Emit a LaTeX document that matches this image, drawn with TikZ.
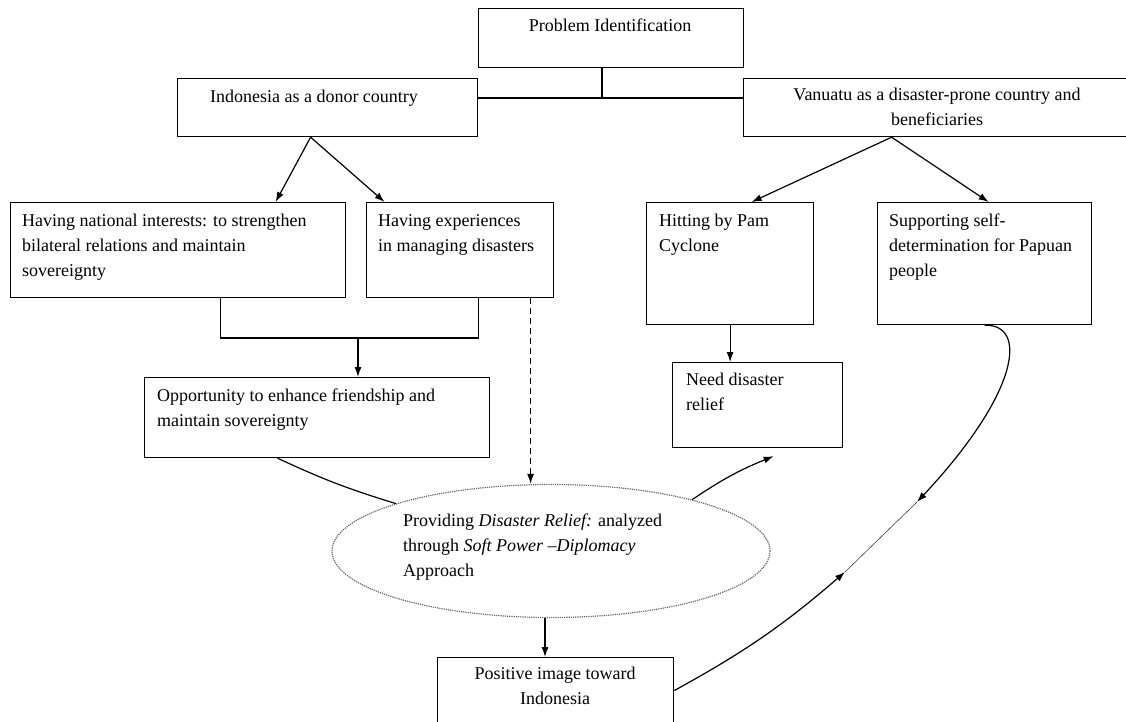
\documentclass[tikz,border=0pt]{standalone}
\usepackage{fontspec}
\setmainfont{Liberation Serif}
\usetikzlibrary{arrows.meta,shapes.geometric}

\tikzset{
  box/.style={draw, line width=1.2pt, inner sep=0pt, anchor=north west},
  txt/.style={inner sep=0pt, align=left, anchor=north west},
  ctxt/.style={inner sep=0pt, align=center, anchor=north},
  link/.style={line width=1.2pt},
  >={Latex[length=10pt,width=7pt]}
}

\begin{document}
\begin{tikzpicture}[x=1pt, y=1pt, font=\fontsize{18}{25}\selectfont]
  \useasboundingbox (0,0) rectangle (1126,-722);
  % boxes
  \node[box, minimum width=265pt, minimum height=59pt] (pi) at (478,-8) {};
  \node[box, minimum width=300pt, minimum height=58pt] (indo) at (177,-78) {};
  \node[box, minimum width=392pt, minimum height=58pt] (van) at (743,-78) {};
  \node[box, minimum width=335pt, minimum height=95pt] (nat) at (10,-202) {};
  \node[box, minimum width=187pt, minimum height=95pt] (exp) at (366,-202) {};
  \node[box, minimum width=167pt, minimum height=122pt] (hit) at (646,-202) {};
  \node[box, minimum width=214pt, minimum height=122pt] (sup) at (877,-202) {};
  \node[box, minimum width=345pt, minimum height=80pt] (opp) at (144,-377) {};
  \node[box, minimum width=170pt, minimum height=85pt] (need) at (672,-362) {};
  \node[ellipse, draw=gray!80!black, densely dotted, line width=1.2pt, inner sep=0pt,
        minimum width=438pt, minimum height=133pt] (prov) at (551,-551) {};
  \node[box, minimum width=236pt, minimum height=66pt] (pos) at (437,-657) {};

  % texts
  \node[ctxt] (piT) at (610,-19) {Problem Identification};
  \node[ctxt] (indoT) at (314,-90) {Indonesia as a donor country};
  \node[ctxt] (vanT) at (937,-88) {Vanuatu as a disaster-prone country and\\beneficiaries};
  \node[txt] (natT) at (22,-214) {Having national interests: to strengthen\\bilateral relations and maintain\\sovereignty};
  \node[txt] (expT) at (378,-214) {Having experiences\\in managing disasters};
  \node[txt] (hitT) at (659,-214) {Hitting by Pam\\Cyclone};
  \node[txt] (supT) at (889,-214) {Supporting self-\\determination for Papuan\\people};
  \node[txt] (oppT) at (157,-389) {Opportunity to enhance friendship and\\maintain sovereignty};
  \node[txt] (needT) at (686,-373) {Need disaster\\relief};
  \node[txt] (provT) at (403,-514) {Providing \textit{Disaster Relief:} analyzed\\through \textit{Soft Power –Diplomacy}\\Approach};
  \node[ctxt] (posT) at (555,-667) {Positive image toward\\Indonesia};

  % connectors
  \coordinate (split) at (602,-98);
  \draw[link] (split |- pi.south) -- (split);
  \draw[link] (indo.east |- split) -- (van.west |- split);
  \draw[link,->] ([xshift=-17pt]indo.south) -- ([xshift=97.5pt]nat.north);
  \draw[link,->] ([xshift=-17pt]indo.south) -- ([xshift=-75.5pt]exp.north);
  \draw[link,->] ([xshift=-48pt]van.south) -- ([xshift=21.5pt]hit.north);
  \draw[link,->] ([xshift=-48pt]van.south) -- ([xshift=4pt]sup.north);

  \coordinate (merge) at (358,-338);
  \draw[link] ([xshift=42.5pt]nat.south) |- (merge) -| ([xshift=18.5pt]exp.south);
  \draw[link,->] (merge) -- (merge |- opp.north);
  \draw[link,->,dash pattern=on 6pt off 4pt] ([xshift=70.5pt]exp.south) -- ([xshift=70.5pt]exp.south |- prov.north);
  \draw[link,->] (hit.south) -- (hit.south |- need.north);

  \draw[link] ([xshift=-39.5pt]opp.south) to[bend right=4] (prov.163);
  \draw[link,->] (prov.20) to[bend left=6] ([xshift=16pt,yshift=-8pt]need.south);
  \draw[link,->] ([xshift=-6pt]prov.south) -- ([xshift=-6pt]prov.south |- pos.north);

  \coordinate (m1) at (917,-502);
  \coordinate (m2) at (845,-572);
  \draw[link,->] (sup.south) .. controls (1028,-324) and (1020,-392) .. (m1);
  \draw[thin] (m1) -- (m2);
  \draw[link,->] (pos.east) to[bend right=6] (m2);
\end{tikzpicture}
\end{document}
